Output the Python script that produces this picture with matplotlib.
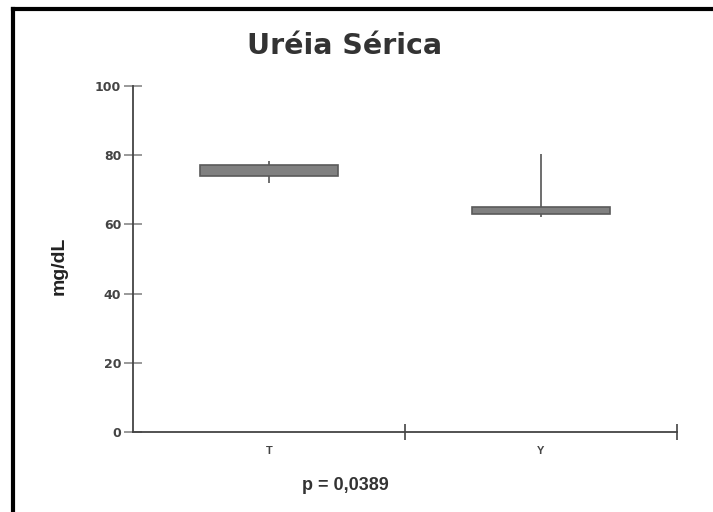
import matplotlib
matplotlib.use("Agg")
import matplotlib.pyplot as plt
from matplotlib.lines import Line2D
from matplotlib import font_manager

plt.rcParams['font.family'] = ['Liberation Sans', 'DejaVu Sans']

names = {f.name for f in font_manager.fontManager.ttflist}
narrow = 'Liberation Sans Narrow' if 'Liberation Sans Narrow' in names else 'Liberation Sans'

categories = ["T", "Y"]
q1 = [74.0, 63.0]
q3 = [77.2, 65.0]
med = [75.5, 64.0]
whislo = [72.0, 62.1]
whishi = [78.3, 80.3]
yticks = [0, 20, 40, 60, 80, 100]

fig = plt.figure(figsize=(7.13, 5.12), dpi=100)
ax = fig.add_axes([133/713, 1 - 432/512, (677 - 133)/713, (432 - 86)/512])

stats = []
for i, c in enumerate(categories):
    stats.append(dict(label=c, q1=q1[i], q3=q3[i], med=med[i],
                      whislo=whislo[i], whishi=whishi[i], fliers=[]))

positions = list(range(1, len(categories) + 1))
for p, lo, hi in zip(positions, whislo, whishi):
    ax.plot([p, p], [lo, hi], color='#555555', lw=1.2, zorder=1, solid_capstyle='butt')

ax.bxp(stats, positions=positions, widths=0.505, patch_artist=True,
       showcaps=False, showfliers=False,
       boxprops=dict(facecolor='#808080', edgecolor='#5a5a5a', linewidth=1.2),
       whiskerprops=dict(linewidth=0),
       medianprops=dict(linewidth=0), zorder=2)

ax.set_xlim(0.5, len(categories) + 0.5)
ax.set_ylim(0, 100)
ax.spines['top'].set_visible(False)
ax.spines['right'].set_visible(False)
for s in ('left', 'bottom'):
    ax.spines[s].set_color('#444444')
    ax.spines[s].set_linewidth(1.3)

ax.set_yticks(yticks)
ax.set_yticklabels([str(v) for v in yticks])
ax.tick_params(axis='y', direction='inout', length=13, width=1.2, color='#888888',
               pad=2, labelcolor='#444444')
for lab in ax.get_yticklabels():
    lab.set_fontweight('bold')
    lab.set_fontfamily(['DejaVu Sans'])
    lab.set_fontsize(9)

ax.set_xticks(positions)
ax.set_xticklabels(categories)
ax.tick_params(axis='x', which='major', length=0, pad=10, labelsize=8, labelcolor='#444444')
for lab in ax.get_xticklabels():
    lab.set_fontweight('bold')
    lab.set_fontfamily(['Liberation Sans'])
ax.set_xticks([p + 0.5 for p in positions], minor=True)
ax.tick_params(axis='x', which='minor', direction='inout', length=12, width=1.2, color='#444444')

fig.text(59/713, 1 - 266/512, 'mg/dL', rotation=90, ha='center', va='center',
         fontsize=14, fontweight='bold', color='#222222', family=[narrow, 'Liberation Sans'])
fig.text(345/713, 1 - 46/512, 'Uréia Sérica', ha='center', va='center',
         fontsize=20.5, fontweight='bold', color='#333333', family=['DejaVu Sans'])
fig.text(345/713, 1 - 486/512, 'p = 0,0389', ha='center', va='center',
         fontsize=13, fontweight='bold', color='#333333', family=['Liberation Sans'])

fig.add_artist(Line2D([13/713, 13/713], [0, 1 - 9/512], transform=fig.transFigure,
                      color='black', lw=3, solid_capstyle='projecting'))
fig.add_artist(Line2D([13/713, 1], [1 - 9/512, 1 - 9/512], transform=fig.transFigure,
                      color='black', lw=3, solid_capstyle='projecting'))

fig.savefig('out.png', dpi=100, facecolor='white')
